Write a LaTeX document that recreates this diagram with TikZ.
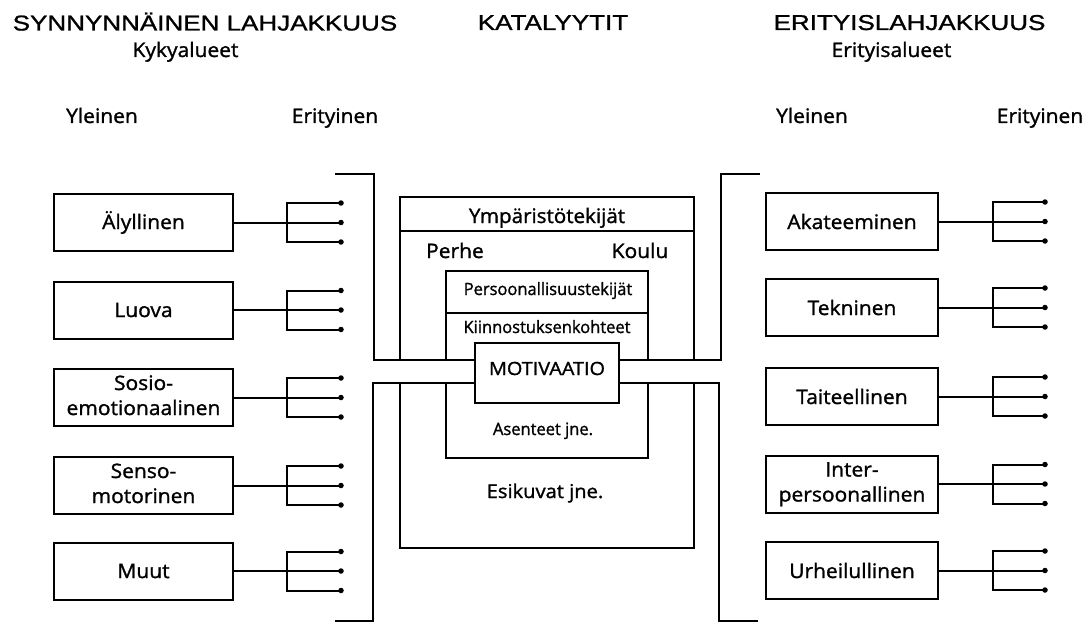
\documentclass[tikz,border=0pt]{standalone}
\usepackage{graphicx}
\usepackage{fontspec}
\setmainfont{Open Sans}[FakeBold=1.3]
\newfontfamily\hdfont{Liberation Sans}[FakeBold=1.0]
\newcommand{\sx}[2]{\scalebox{#1}[1]{#2}}
\newcommand{\hs}[1]{\scalebox{1.05}[1]{#1}}
\newcommand{\hh}[1]{\scalebox{1.21}[1]{#1}}
\newcommand{\twoline}[2]{\hs{\begin{tabular}{@{}c@{}}#1\\#2\end{tabular}}}
\begin{document}
\begin{tikzpicture}[x=1pt,y=-1pt,line width=2pt,
  box/.style={draw,minimum height=57pt,inner sep=0pt,align=center,font=\fontsize{20}{25}\selectfont},
  lbox/.style={box,minimum width=179pt},
  rbox/.style={box,minimum width=172pt},
  txt/.style={inner sep=0pt,anchor=base,font=\fontsize{20}{25}\selectfont},
  smalltxt/.style={inner sep=0pt,anchor=base,font=\fontsize{17}{20}\selectfont},
  hd/.style={inner sep=0pt,anchor=base,font=\hdfont\fontsize{21.5}{26}\selectfont},
  fdot/.style={circle,fill,inner sep=0pt,minimum size=5.5pt}]
\useasboundingbox (0,0) rectangle (1091,623);
% headers
\node[hd] (h1) at (205,30.5) {\hh{SYNNYNNÄINEN LAHJAKKUUS}};
\node[hd] (h2) at (553,30) {\hh{KATALYYTIT}};
\node[hd] (h3) at (909.5,30) {\hh{ERITYISLAHJAKKUUS}};
\node[txt] (s1) at (185.5,57) {\hs{Kykyalueet}};
\node[txt] (s2) at (891.5,57) {\hs{Erityisalueet}};
\node[txt] (y1) at (102,123) {\hs{Yleinen}};
\node[txt] (e1) at (335,123) {\hs{Erityinen}};
\node[txt] (y2) at (812,123) {\hs{Yleinen}};
\node[txt] (e2) at (1040,123) {\hs{Erityinen}};
% left boxes
\foreach \i/\cy/\t in {1/222.5/\hs{Älyllinen},2/310/\hs{Luova},3/397.5/\twoline{Sosio-}{emotionaalinen},4/485.5/\twoline{Senso-}{motorinen},5/571/\hs{Muut}}{
  \node[lbox] (L\i) at (143.5,\cy) {\t};
  \coordinate (Lm\i) at (341,\cy);
  \coordinate (Lt\i) at (341,\cy-19.5);
  \coordinate (Lb\i) at (341,\cy+19.5);
  \draw (L\i.east) -- (Lm\i);
  \draw (Lt\i) -- (287,\cy-19.5) -- (287,\cy+19.5) -- (Lb\i);
  \node[fdot] at (Lt\i) {};
  \node[fdot] at (Lm\i) {};
  \node[fdot] at (Lb\i) {};
}
% right boxes
\foreach \i/\cy/\t in {1/221.5/\hs{Akateeminen},2/307.5/\hs{Tekninen},3/396.5/\hs{Taiteellinen},4/484/\twoline{Inter-}{persoonallinen},5/570.5/\hs{Urheilullinen}}{
  \node[rbox] (R\i) at (852,\cy) {\t};
  \coordinate (Rm\i) at (1045,\cy);
  \coordinate (Rt\i) at (1045,\cy-19.5);
  \coordinate (Rb\i) at (1045,\cy+19.5);
  \draw (R\i.east) -- (Rm\i);
  \draw (Rt\i) -- (993,\cy-19.5) -- (993,\cy+19.5) -- (Rb\i);
  \node[fdot] at (Rt\i) {};
  \node[fdot] at (Rm\i) {};
  \node[fdot] at (Rb\i) {};
}
% central structure
\node[draw,minimum width=144pt,minimum height=60pt,inner sep=0pt] (MOT) at (547,373) {};
\node[inner sep=0pt,anchor=base,font=\fontsize{18.2}{20}\selectfont] (mott) at (547,375) {\sx{1.09}{MOTIVAATIO}};
\draw (400,360) -- (400,197) -- (694,197) -- (694,360);
\draw (400,231) -- (694,231);
\draw (446,360) -- (446,271) -- (648,271) -- (648,360);
\draw (446,313) -- (648,313);
\draw (400,383) -- (400,548) -- (694,548) -- (694,383);
\draw (446,383) -- (446,458) -- (648,458) -- (648,383);
% brackets and channel
\coordinate (chA) at (0,360);
\coordinate (chB) at (0,383);
\draw (335,174) -- (374,174) -- (374,360) -- (MOT.west |- chA);
\draw (335,621) -- (373,621) -- (373,383) -- (MOT.west |- chB);
\draw (760,174) -- (721,174) -- (721,360) -- (MOT.east |- chA);
\draw (758,621) -- (719,621) -- (719,383) -- (MOT.east |- chB);
% central texts
\node[txt] (env) at (547,223) {\sx{1.03}{Ympäristötekijät}};
\node[txt] (perhe) at (455,258) {\hs{Perhe}};
\node[txt] (koulu) at (640,258) {\hs{Koulu}};
\node[smalltxt] (pers) at (548,295) {\sx{0.97}{Persoonallisuustekijät}};
\node[smalltxt] (kiin) at (547,333) {\sx{0.97}{Kiinnostuksenkohteet}};
\node[smalltxt] (ase) at (543,435) {\sx{0.97}{Asenteet jne.}};
\node[inner sep=0pt,anchor=base,font=\fontsize{19}{22}\selectfont] (esi) at (545,498) {\sx{1.06}{Esikuvat jne.}};
\end{tikzpicture}
\end{document}
